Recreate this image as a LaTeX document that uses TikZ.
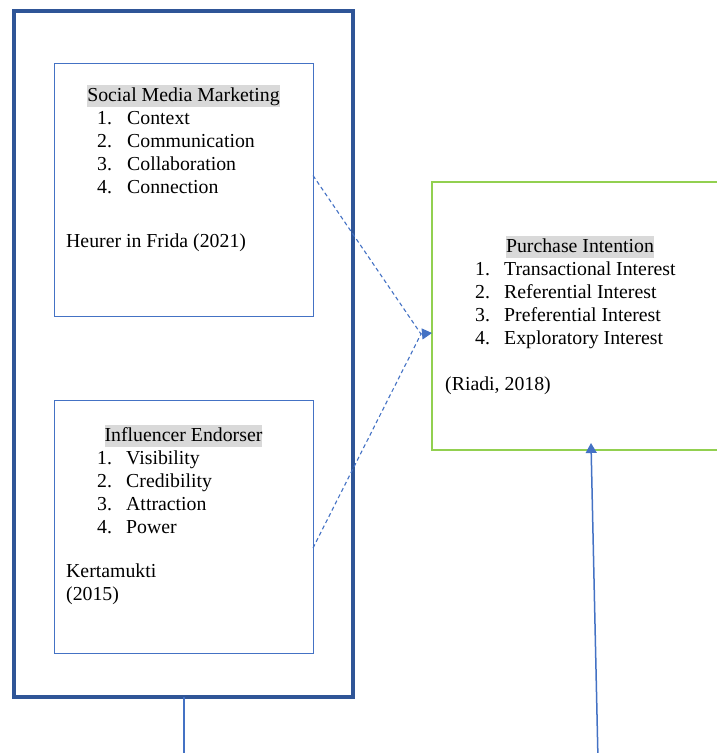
\documentclass[tikz,border=0pt]{standalone}
\usepackage{fontspec}
\setmainfont{Liberation Serif}
\usepackage{xcolor}
\definecolor{mblue}{HTML}{4472C4}
\definecolor{mnavy}{HTML}{2F5597}
\definecolor{mgreen}{HTML}{92D050}
\definecolor{mgray}{HTML}{D9D9D9}
\usepackage{tikz}
\usetikzlibrary{arrows.meta}

\tikzset{
    varbox/.style={draw=mblue, line width=1pt, minimum width=259pt, minimum height=253pt, inner sep=0pt, outer sep=0pt, anchor=north west},
    heading/.style={fill=mgray, inner sep=0pt, text height=16pt, text depth=6pt, anchor=base},
    item/.style={anchor=base west, inner sep=0pt},
    link/.style={mblue, line width=1.1pt, dash pattern=on 4pt off 3pt},
    tip/.style={-{Triangle[length=10pt, width=11pt]}},
}

\begin{document}
\begin{tikzpicture}[x=1pt, y=-1pt, font=\fontsize{19.8}{23}\selectfont]
        \useasboundingbox (0,0) rectangle (717,753);

        \node[draw=mnavy, line width=4.5pt, minimum width=339pt, minimum height=686pt, inner sep=0pt, outer sep=0pt, anchor=north west] (outer) at (14,11) {};
        \node[varbox] (smm) at (54,63) {};
        \node[varbox] (ie) at (54,400) {};
        \node[draw=mgreen, line width=1.2pt, minimum width=296pt, minimum height=268pt, inner sep=0pt, outer sep=0pt, anchor=north west] (pi) at (432,182) {};

        % social media marketing
        \node[heading] (smm-title) at (183.5,101) {Social Media Marketing};
        \foreach \t [count=\i] in {Context, Communication, Collaboration, Connection} {
            \node[item] (smm-n\i) at (97,101+23*\i) {\i.};
            \node[item] (smm-\i) at (127,101+23*\i) {\t};
        }
        \node[item] (smm-ref) at (66,247) {Heurer in Frida (2021)};

        % influencer endorser
        \node[heading] (ie-title) at (183.5,441) {Influencer Endorser};
        \foreach \t [count=\i] in {Visibility, Credibility, Attraction, Power} {
            \node[item] (ie-n\i) at (97,441+23*\i) {\i.};
            \node[item] (ie-\i) at (126,441+23*\i) {\t};
        }
        \node[item] (ie-ref1) at (66,577) {Kertamukti};
        \node[item] (ie-ref2) at (66,600) {(2015)};

        % purchase intention
        \node[heading] (pi-title) at (580,252) {Purchase Intention};
        \foreach \t [count=\i] in {Transactional Interest, Referential Interest, Preferential Interest, Exploratory Interest} {
            \node[item] (pi-n\i) at (475,252+23*\i) {\i.};
            \node[item] (pi-\i) at (504,252+23*\i) {\t};
        }
        \node[item] (pi-ref) at (445,390) {(Riadi, 2018)};

        % dashed links meeting at one head
        \coordinate (meet) at (421,334);
        \draw[link] ([yshift=14pt]smm.east) -- (meet);
        \draw[link] ([yshift=-21.5pt]ie.east) -- (meet);
        \draw[mblue, line width=1pt, tip] (meet) -- ([yshift=-17pt]pi.west);

        \coordinate (lowend) at (184,760);
        \coordinate (lowstart) at (598,760);
        \draw[mblue, line width=1.5pt] (outer.south -| lowend) -- (lowend);
        \draw[mblue, line width=1.5pt, tip] (lowstart) -- ([xshift=11pt, yshift=7pt]pi.south);
    \end{tikzpicture}
\end{document}
